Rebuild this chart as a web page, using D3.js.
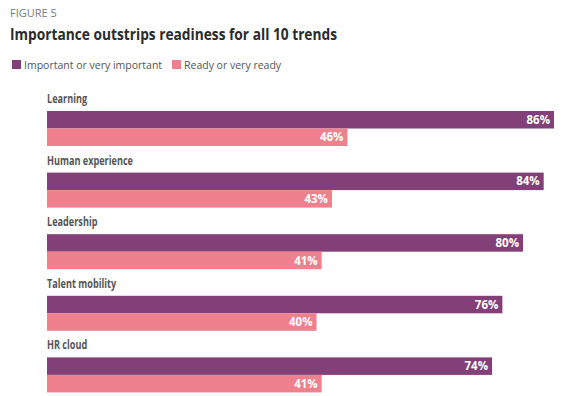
<!DOCTYPE html>
<html>
<head>
<meta charset="utf-8">
<script src="https://cdn.jsdelivr.net/npm/d3@7"></script>
<style>
  body { margin: 0; background: #fff; }
  svg { display: block; }
</style>
</head>
<body>
<div id="app"></div>
<script>
const trends = ['Learning', 'Human experience', 'Leadership', 'Talent mobility', 'HR cloud'];
const important = [86, 84, 80, 76, 74];
const ready = [46, 43, 41, 40, 41];
const seriesNames = ['Important or very important', 'Ready or very ready'];
const colors = ['#833f77', '#ef818e'];

const width = 581, height = 396;
const narrow = 0.73; // fake a condensed bold face

const svg = d3.select('#app')
  .append('svg')
  .attr('width', width)
  .attr('height', height);

// header
svg.append('text')
  .attr('x', 10).attr('y', 17)
  .attr('font-family', 'Open Sans, sans-serif')
  .attr('font-size', 11)
  .attr('fill', '#7a7a7a')
  .text('FIGURE 5');

svg.append('text')
  .attr('x', 10).attr('y', 39.5)
  .attr('font-family', 'Open Sans, sans-serif')
  .attr('font-weight', 'bold')
  .attr('font-size', 16)
  .attr('fill', '#2b2b2b')
  .attr('textLength', 327)
  .attr('lengthAdjust', 'spacingAndGlyphs')
  .text('Importance outstrips readiness for all 10 trends');

// legend
const legendX = [12, 172];
const legend = svg.append('g')
  .selectAll('g')
  .data(seriesNames)
  .enter()
  .append('g')
  .attr('transform', (d, i) => `translate(${legendX[i]}, 60)`);

legend.append('rect')
  .attr('width', 9).attr('height', 9)
  .attr('fill', (d, i) => colors[i]);

legend.append('text')
  .attr('x', 12).attr('y', 8.5)
  .attr('font-family', 'Open Sans, sans-serif')
  .attr('font-size', 10.5)
  .attr('fill', '#555')
  .text(d => d);

// scales
const xScale = d3.scaleLinear().domain([-12.2, 86]).range([47, 554]);
const yScale = d3.scaleBand().domain(trends).range([111, 111 + 61.6 * trends.length]).paddingInner(0).paddingOuter(0);
const barH = 17.5;
const x0 = xScale.range()[0];

const groups = svg.append('g')
  .selectAll('g')
  .data(trends)
  .enter()
  .append('g')
  .attr('transform', d => `translate(0, ${yScale(d)})`);

groups.append('text')
  .attr('transform', `translate(${x0}, -8) scale(${narrow}, 1)`)
  .attr('font-family', 'Open Sans, sans-serif')
  .attr('font-weight', 'bold')
  .attr('font-size', 12.5)
  .attr('fill', '#555')
  .text(d => d);

const series = [important, ready];
series.forEach((vals, s) => {
  groups.append('rect')
    .attr('x', x0)
    .attr('y', s * barH)
    .attr('width', (d, i) => xScale(vals[i]) - x0)
    .attr('height', barH)
    .attr('fill', colors[s]);

  groups.append('text')
    .attr('x', (d, i) => xScale(vals[i]) - 4)
    .attr('y', s * barH + barH / 2)
    .attr('dy', '0.36em')
    .attr('text-anchor', 'end')
    .attr('font-family', 'Open Sans, sans-serif')
    .attr('font-weight', 'bold')
    .attr('font-size', 11.5)
    .attr('fill', '#fff')
    .text((d, i) => vals[i] + '%');
});
</script>
</body>
</html>
